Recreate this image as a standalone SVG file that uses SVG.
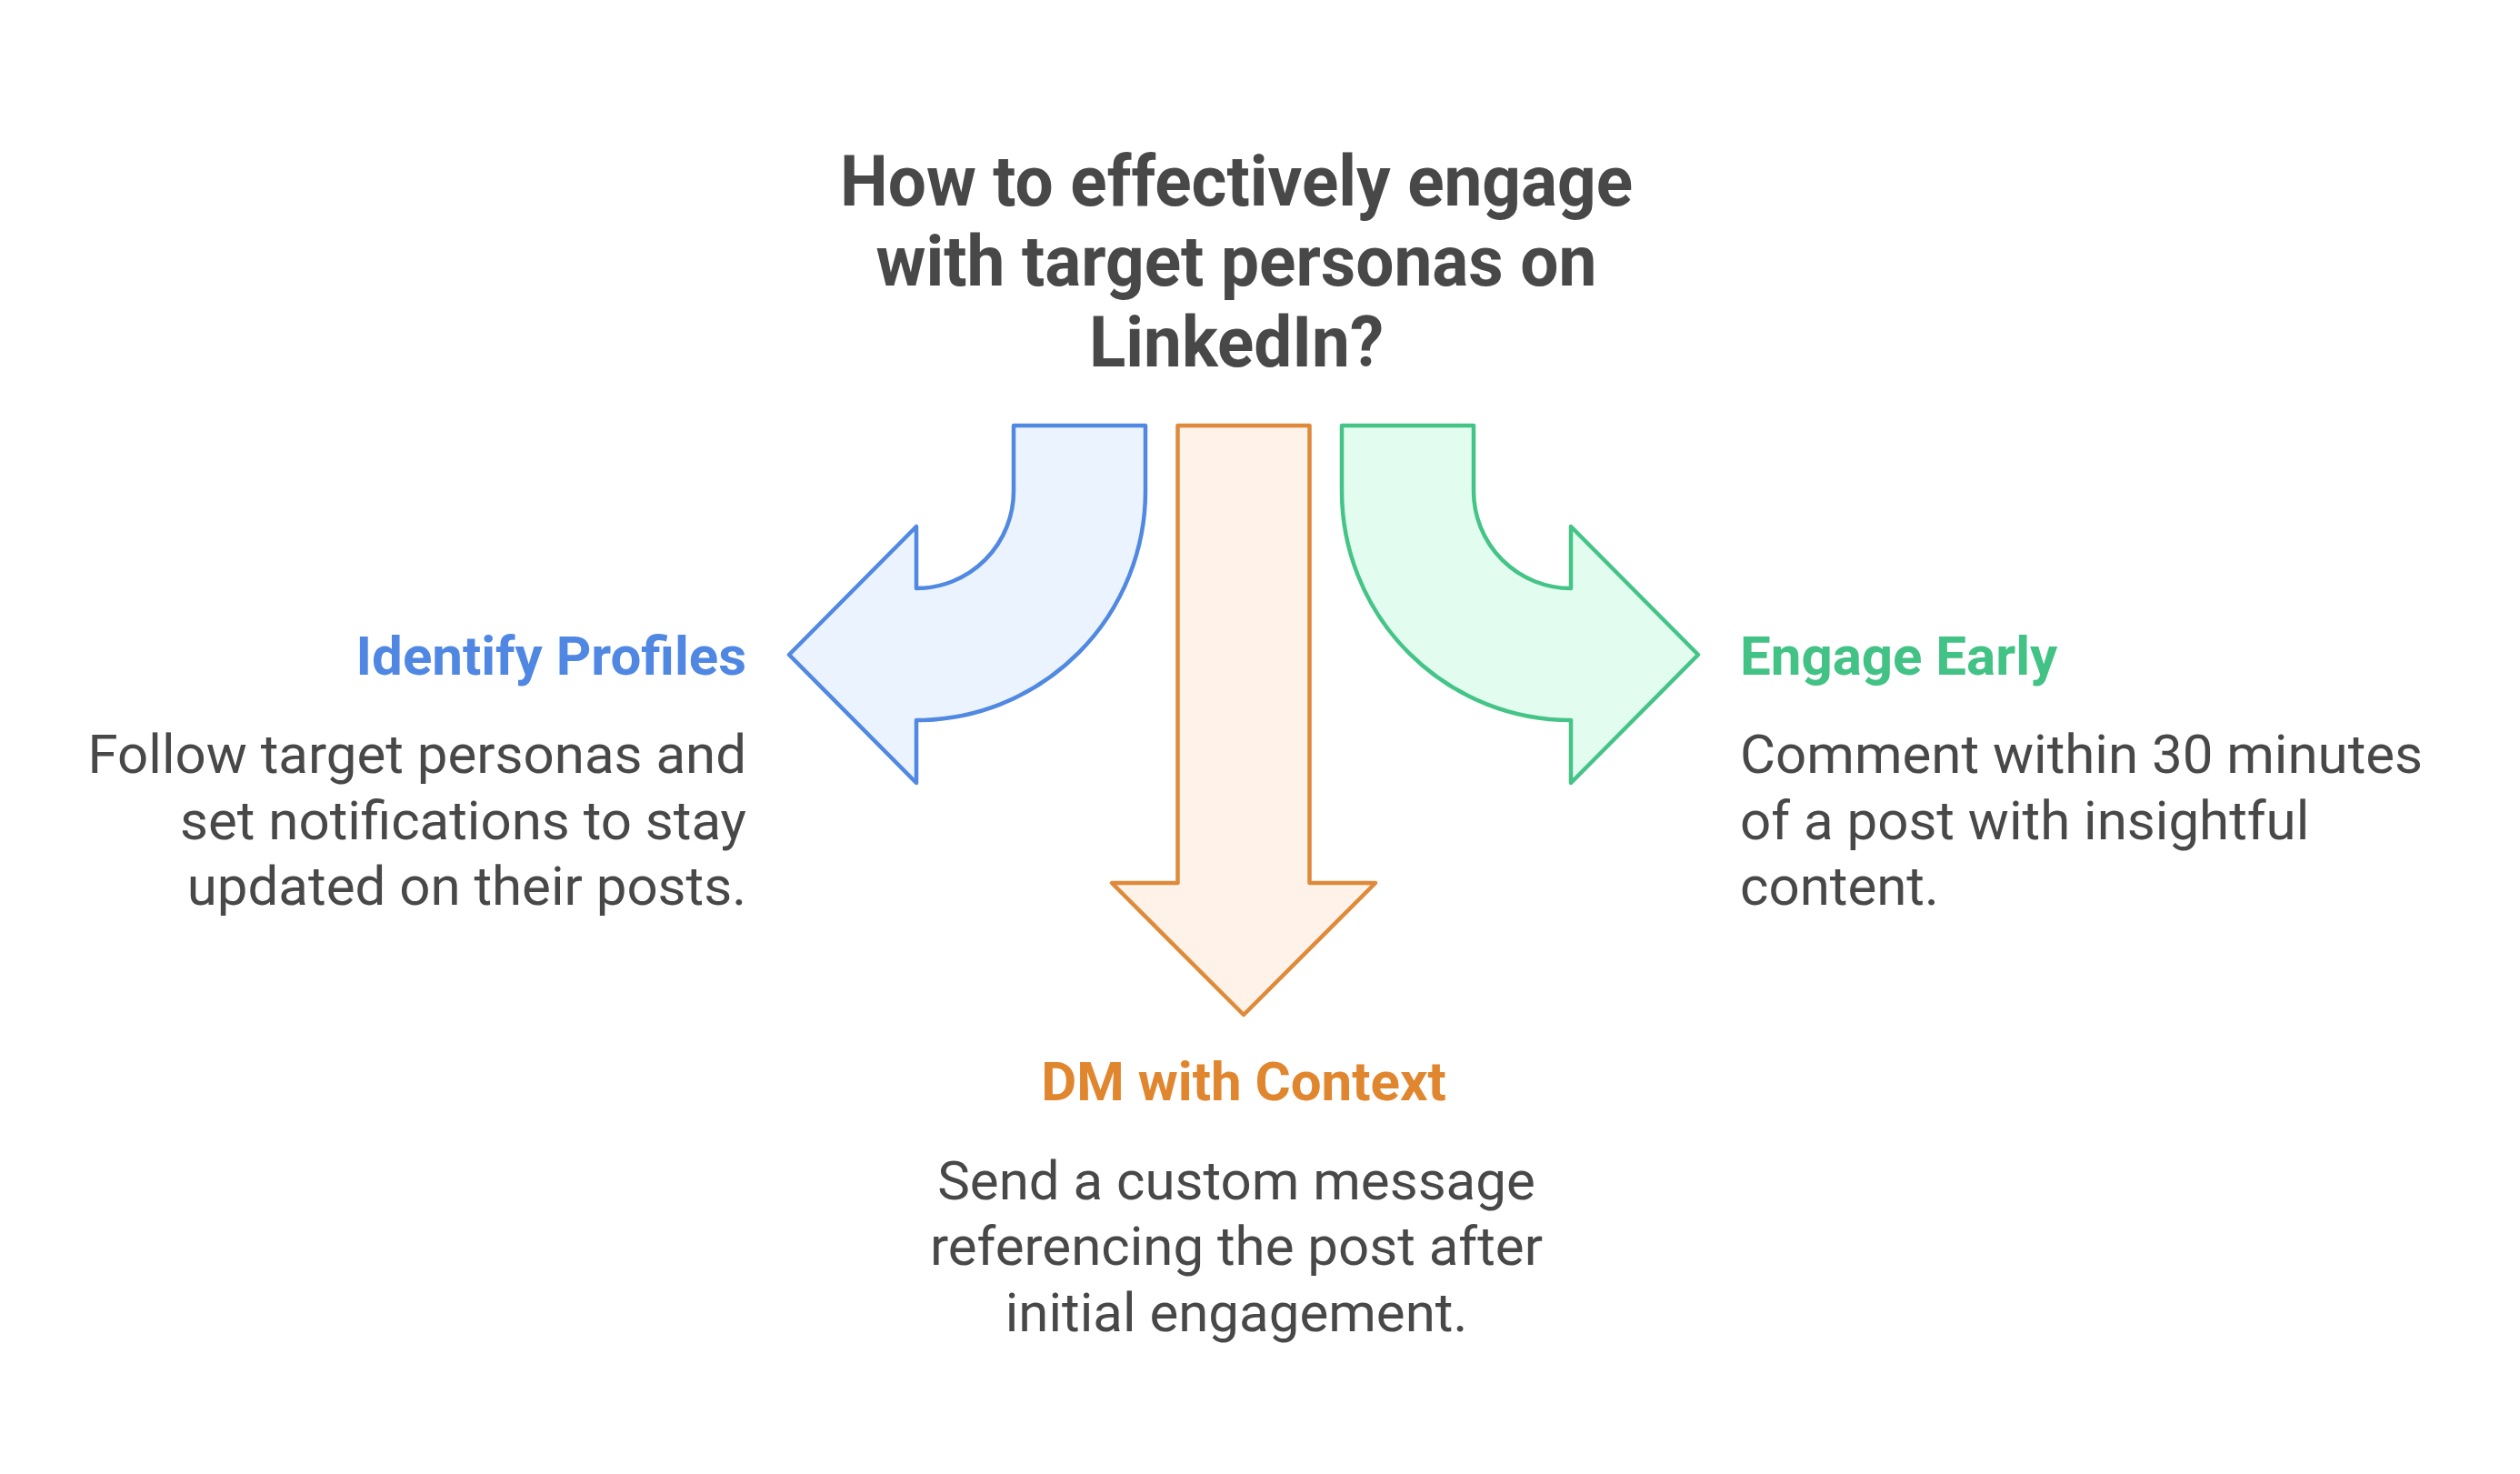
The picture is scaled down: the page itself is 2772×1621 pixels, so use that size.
<svg xmlns="http://www.w3.org/2000/svg" width="2772" height="1621" viewBox="0 0 2772 1621">
<style>
.title{font-family:Roboto,"Liberation Sans",sans-serif;font-weight:700;font-size:78px;fill:#484848;text-anchor:middle}
.head{font-family:Roboto,"Liberation Sans",sans-serif;font-weight:700;font-size:60px}
.body{font-family:Roboto,"Liberation Sans",sans-serif;font-weight:400;font-size:60px;fill:#484848}
.arrow{stroke-width:4.5;stroke-linejoin:round}
</style>
<rect width="2772" height="1621" fill="#ffffff"/>
<g id="title">
<text class="title" x="1360" y="226" textLength="872" lengthAdjust="spacingAndGlyphs">How to effectively engage</text>
<text class="title" x="1360" y="314" textLength="793" lengthAdjust="spacingAndGlyphs">with target personas on</text>
<text class="title" x="1360" y="403" textLength="324" lengthAdjust="spacingAndGlyphs">LinkedIn?</text>
</g>
<g id="connectors">
<path id="arrow-blue" class="arrow" fill="#EBF3FE" stroke="#5088E2" d="M1115 468 L1260 468 L1260 540 A252 252 0 0 1 1008 792 L1008 861 L868 720 L1008 579 L1008 647 A107 107 0 0 0 1115 540 Z"/>
<path id="arrow-orange" class="arrow" fill="#FFF2E8" stroke="#DE8A3A" d="M1295.5 468 L1440.5 468 L1440.5 971 L1513 971 L1368 1116 L1223 971 L1295.5 971 Z"/>
<path id="arrow-green" class="arrow" fill="#E2FCEF" stroke="#45C487" d="M1476 468 L1621 468 L1621 540 A107 107 0 0 0 1728 647 L1728 579 L1868 720 L1728 861 L1728 792 A252 252 0 0 1 1476 540 Z"/>
</g>
<g id="node-identify">
<text class="head" x="821" y="742" text-anchor="end" fill="#4F87E2">Identify Profiles</text>
<text class="body" x="821" y="850" text-anchor="end">Follow target personas and</text>
<text class="body" x="821" y="923" text-anchor="end">set notifications to stay</text>
<text class="body" x="821" y="995" text-anchor="end">updated on their posts.</text>
</g>
<g id="node-dm">
<text class="head" x="1368" y="1210" text-anchor="middle" fill="#E0862F">DM with Context</text>
<text class="body" x="1360" y="1319" text-anchor="middle">Send a custom message</text>
<text class="body" x="1360" y="1391" text-anchor="middle">referencing the post after</text>
<text class="body" x="1360" y="1464" text-anchor="middle">initial engagement.</text>
</g>
<g id="node-engage">
<text class="head" x="1914" y="742" fill="#42C285">Engage Early</text>
<text class="body" x="1914" y="850">Comment within 30 minutes</text>
<text class="body" x="1914" y="923">of a post with insightful</text>
<text class="body" x="1914" y="995">content.</text>
</g>
</svg>
